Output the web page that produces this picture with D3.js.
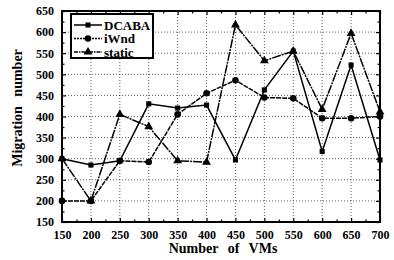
<!DOCTYPE html>
<html>
<head>
<script src="https://d3js.org/d3.v7.min.js"></script>
<style>
  body { margin: 0; background: #fff; }
  svg text { font-family: "Liberation Serif", "DejaVu Serif", serif; fill: #000; }
</style>
</head>
<body>
<div id="vis"></div>
<script>
// data
var vms = [150, 200, 250, 300, 350, 400, 450, 500, 550, 600, 650, 700];
var dcaba = [300, 285, 295, 430, 420, 427, 297, 463, 555, 317, 522, 297];
var iwnd = [200, 200, 295, 292, 405, 455, 486, 445, 443, 396, 396, 400];
var staticVals = [300, 200, 405, 376, 295, 292, 617, 532, 555, 417, 597, 411];
var yTicks = [150, 200, 250, 300, 350, 400, 450, 500, 550, 600, 650];
var seriesNames = ["DCABA", "iWnd", "static"];

var W = 394, H = 260;
// plot area edges (note: "top" is reserved on window)
var pL = 62, pR = 380, pT = 11, pB = 222;

var svg = d3.select("#vis").append("svg")
  .attr("width", W).attr("height", H);

var x = d3.scaleLinear().domain([150, 700]).range([pL, pR]);
var y = d3.scaleLinear().domain([150, 650]).range([pB, pT]);

// grid
var grid = svg.append("g");
grid.selectAll(".gx").data(vms.slice(1, -1)).enter().append("line")
  .attr("x1", function(d){ return x(d); }).attr("x2", function(d){ return x(d); })
  .attr("y1", pT).attr("y2", pB)
  .attr("stroke", "#333").attr("stroke-width", 0.8).attr("stroke-dasharray", "1,2");
grid.selectAll(".gy").data(yTicks.slice(1, -1)).enter().append("line")
  .attr("y1", function(d){ return y(d); }).attr("y2", function(d){ return y(d); })
  .attr("x1", pL).attr("x2", pR)
  .attr("stroke", "#333").attr("stroke-width", 0.8).attr("stroke-dasharray", "1,2");

// axes with inward ticks
var minorX = d3.range(175, 700, 50);
var minorY = d3.range(175, 650, 50);

function noDomain(g){ g.select(".domain").remove(); }

svg.append("g").attr("transform", "translate(0," + pB + ")")
  .call(d3.axisBottom(x).tickValues(vms).tickSize(-4).tickPadding(8).tickFormat(d3.format("d")))
  .call(noDomain);
svg.append("g").attr("transform", "translate(0," + pB + ")")
  .call(d3.axisBottom(x).tickValues(minorX).tickSize(-2.5).tickFormat(""))
  .call(noDomain);
svg.append("g").attr("transform", "translate(0," + pT + ")")
  .call(d3.axisTop(x).tickValues(vms).tickSize(-4).tickFormat(""))
  .call(noDomain);
svg.append("g").attr("transform", "translate(0," + pT + ")")
  .call(d3.axisTop(x).tickValues(minorX).tickSize(-2.5).tickFormat(""))
  .call(noDomain);

svg.append("g").attr("transform", "translate(" + pL + ",0)")
  .call(d3.axisLeft(y).tickValues(yTicks).tickSize(-4).tickPadding(8).tickFormat(d3.format("d")))
  .call(noDomain);
svg.append("g").attr("transform", "translate(" + pL + ",0)")
  .call(d3.axisLeft(y).tickValues(minorY).tickSize(-2.5).tickFormat(""))
  .call(noDomain);
svg.append("g").attr("transform", "translate(" + pR + ",0)")
  .call(d3.axisRight(y).tickValues(yTicks).tickSize(-4).tickFormat(""))
  .call(noDomain);
svg.append("g").attr("transform", "translate(" + pR + ",0)")
  .call(d3.axisRight(y).tickValues(minorY).tickSize(-2.5).tickFormat(""))
  .call(noDomain);

svg.selectAll(".tick line").attr("stroke", "#000").attr("stroke-width", 1.2);
svg.selectAll(".tick text")
  .attr("font-size", "12px").attr("font-weight", "bold")
  .style("font-family", "'Liberation Serif', serif");

// frame
svg.append("rect").attr("x", pL).attr("y", pT)
  .attr("width", pR - pL).attr("height", pB - pT)
  .attr("fill", "none").attr("stroke", "#000").attr("stroke-width", 2);

// series
var series = [
  { name: seriesNames[0], values: dcaba, dash: null, shape: d3.symbolSquare, size: 26 },
  { name: seriesNames[1], values: iwnd, dash: "5,1", shape: d3.symbolCircle, size: 34 },
  { name: seriesNames[2], values: staticVals, dash: "9,1,2,1", shape: d3.symbolTriangle, size: 34 }
];

var line = d3.line()
  .x(function(d, i){ return x(vms[i]); })
  .y(function(d){ return y(d); });

series.forEach(function(s){
  svg.append("path").datum(s.values)
    .attr("d", line)
    .attr("fill", "none").attr("stroke", "#000").attr("stroke-width", 1.5)
    .attr("stroke-dasharray", s.dash);
  svg.selectAll(null).data(s.values).enter().append("path")
    .attr("d", d3.symbol().type(s.shape).size(s.size))
    .attr("transform", function(d, i){ return "translate(" + x(vms[i]) + "," + y(d) + ")"; })
    .attr("fill", "#000");
});

// legend
var lg = svg.append("g");
lg.append("rect").attr("x", 71).attr("y", 14).attr("width", 82).attr("height", 44)
  .attr("fill", "#fff").attr("stroke", "#000").attr("stroke-width", 2);
var rowY = [25, 38.5, 52];
series.forEach(function(s, i){
  lg.append("line").attr("x1", 74).attr("x2", 102)
    .attr("y1", rowY[i]).attr("y2", rowY[i])
    .attr("stroke", "#000").attr("stroke-width", 1.5)
    .attr("stroke-dasharray", i == 0 ? null : (i == 1 ? "2,1" : "4,1,1.5,1"));
  lg.append("path").attr("d", d3.symbol().type(s.shape).size(s.size))
    .attr("transform", "translate(88," + rowY[i] + ")").attr("fill", "#000");
  lg.append("text").attr("x", 104).attr("y", rowY[i]).attr("dy", "0.35em")
    .attr("font-size", "13px").attr("font-weight", "600").text(s.name);
});

// axis titles
svg.append("text").attr("x", 223).attr("y", 253).attr("text-anchor", "middle")
  .attr("font-size", "14px").attr("font-weight", "bold")
  .attr("word-spacing", "6px").text("Number of VMs");
svg.append("text").attr("transform", "translate(22,108) rotate(-90)")
  .attr("text-anchor", "middle")
  .attr("font-size", "14px").attr("font-weight", "bold")
  .attr("word-spacing", "6px").text("Migration number");
</script>
</body>
</html>
